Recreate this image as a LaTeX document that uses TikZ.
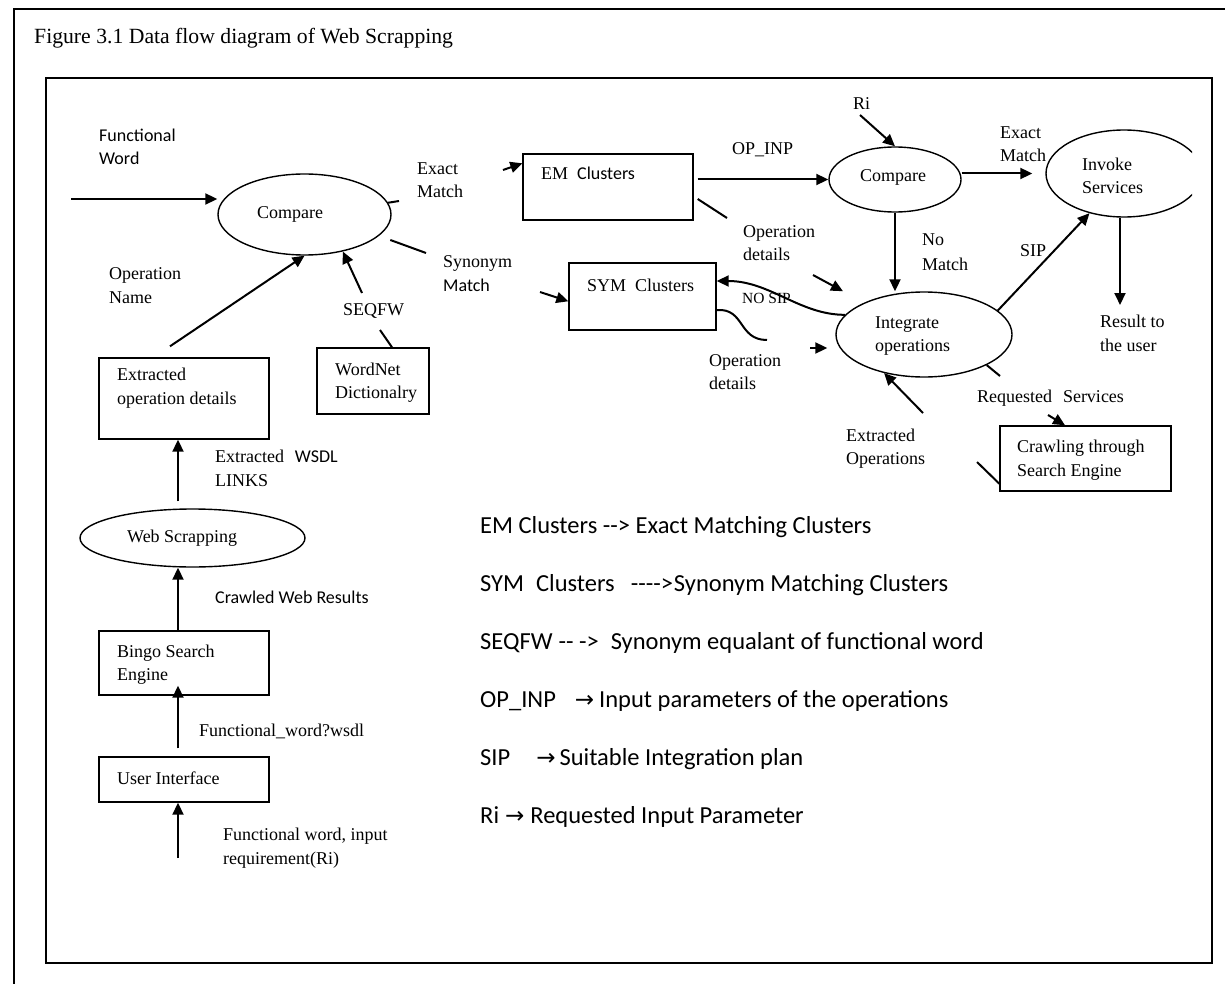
\documentclass[tikz,border=0pt]{standalone}
\usepackage{fontspec}
\setmainfont{Liberation Serif}
\newfontfamily\calib{Carlito}
\newfontfamily\djv{DejaVu Sans}
\usetikzlibrary{arrows.meta,calc,shapes.geometric}
\tikzset{
  lab/.style={anchor=base west,inner sep=0pt,font=\fontsize{18}{22}\selectfont},
  slab/.style={anchor=base west,inner sep=0pt,font=\fontsize{18}{22}\selectfont\calib},
  leg/.style={anchor=base west,inner sep=0pt,font=\fontsize{24.5}{28}\selectfont\calib},
  box/.style={draw,line width=1.4pt,rectangle,inner sep=0pt},
  ell/.style={draw,line width=1.4pt,ellipse,inner sep=0pt},
  con/.style={line width=2pt},
  arr/.style={con,-{Triangle[length=12pt,width=11pt]}},
}
\newcommand{\rarr}{{\djv\fontsize{23}{26}\selectfont →}}
\begin{document}
\begin{tikzpicture}[x=1pt,y=-1pt]
\fill[white] (0,0) rectangle (1225,984);
\useasboundingbox (0,0) rectangle (1225,984);
% frames
\draw[line width=1.6pt] (14,984) -- (14,9) -- (1225,9);
\draw[line width=1.8pt] (46,78) rectangle (1212,963);
\node[anchor=base west,inner sep=0pt,font=\fontsize{21.7}{25}\selectfont] (title) at (34,44) {Figure 3.1 Data flow diagram of Web Scrapping};

% boxes
\node[box,minimum width=170pt,minimum height=81pt] (eod) at (184,398.5) {};
\node[box,minimum width=112pt,minimum height=66pt] (wn) at (373,381) {};
\node[box,minimum width=170pt,minimum height=64pt] (bing) at (184,663) {};
\node[box,minimum width=170pt,minimum height=45pt] (ui) at (184,779.5) {};
\node[box,minimum width=170pt,minimum height=66pt] (em) at (608,187) {};
\node[box,minimum width=147pt,minimum height=67pt] (sym) at (642.5,296.5) {};
\node[box,minimum width=171pt,minimum height=65pt] (crawl) at (1085.5,458.5) {};
% ellipses
\node[ell,minimum width=173pt,minimum height=81pt] (cmp1) at (304.5,214.5) {};
\node[ell,minimum width=225pt,minimum height=58pt] (ws) at (192.5,538) {};
\node[ell,minimum width=132pt,minimum height=65pt] (cmp2) at (895,179.5) {};
\node[ell,minimum width=176pt,minimum height=85pt] (integ) at (924,334.5) {};
\begin{scope}
\clip (1000,100) rectangle (1192,260);
\node[ell,minimum width=156pt,minimum height=87pt] (inv) at (1124,173.5) {};
\end{scope}

% texts in shapes
\node[lab] (t1) at (257,219) {Compare};
\node[lab] (t2) at (335,375) {WordNet};
\node[lab] (t3) at (335,398) {Dictionalry};
\node[lab] (t4) at (117,380) {Extracted};
\node[lab] (t5) at (117,404) {operation details};
\node[lab] (t6) at (127,542) {Web Scrapping};
\node[lab] (t7) at (117,657) {Bingo Search};
\node[lab] (t8) at (117,680) {Engine};
\node[lab] (t9) at (117,784) {User Interface};
\node[lab] (t10) at (541,180) {EM\hspace{0.5em}{\calib Clusters}};
\node[lab] (t11) at (587,291) {SYM\hspace{0.5em}Clusters};
\node[lab] (t12) at (860,182) {Compare};
\node[lab] (t13) at (1082,171) {Invoke};
\node[lab] (t14) at (1082,194) {Services};
\node[lab] (t15) at (875,328) {Integrate};
\node[lab] (t16) at (875,351) {operations};
\node[lab] (t17) at (1017,452) {Crawling through};
\node[lab] (t18) at (1017,476) {Search Engine};

% connector labels
\node[slab] (l1) at (99,142) {Functional};
\node[slab] (l2) at (99,165) {Word};
\node[lab] (l3) at (417,175) {Exact};
\node[lab] (l4) at (417,198) {Match};
\node[lab] (l5) at (443,267) {Synonym};
\node[slab] (l6) at (443,291) {Match};
\node[lab] (l7) at (109,279) {Operation};
\node[lab] (l8) at (109,303) {Name};
\node[lab] (l9) at (343,315) {SEQFW};
\node[lab] (l10) at (215,462) {Extracted\hspace{0.6em}{\calib WSDL}};
\node[lab] (l11) at (215,486) {LINKS};
\node[slab] (l12) at (215,603) {Crawled Web Results};
\node[lab] (l13) at (199,736) {Functional\_word?wsdl};
\node[lab] (l14) at (223,840) {Functional word, input};
\node[lab] (l15) at (223,864) {requirement(Ri)};
\node[lab] (l16) at (732,155) {OP\_INP};
\node[lab] (l17) at (743,237) {Operation};
\node[lab] (l18) at (743,261) {details};
\node[anchor=base west,inner sep=0pt,font=\fontsize{15.5}{18}\selectfont] (l19) at (742,303) {NO SIP};
\node[lab] (l20) at (709,366) {Operation};
\node[lab] (l21) at (709,389) {details};
\node[lab] (l22) at (853,110) {Ri};
\node[lab] (l23) at (1000,139) {Exact};
\node[lab] (l24) at (1000,162) {Match};
\node[lab] (l25) at (922,246) {No};
\node[lab] (l26) at (922,270) {Match};
\node[lab] (l27) at (1020,256) {SIP};
\node[lab] (l28) at (1100,327) {Result to};
\node[lab] (l29) at (1100,351) {the user};
\node[lab] (l30) at (977,402) {Requested\hspace{0.6em}Services};
\node[lab] (l31) at (846,441) {Extracted};
\node[lab] (l32) at (846,464) {Operations};

% legend
\node[leg] (g1) at (480,533) {EM Clusters -{}-> Exact Matching Clusters};
\node[leg] (g2) at (480,591) {SYM\hspace{12pt}Clusters\hspace{16pt}-{}-{}-{}->\hspace{1pt}Synonym Matching Clusters};
\node[leg] (g3) at (480,649) {SEQFW\hspace{6pt}-{}- ->\hspace{12pt}Synonym equalant of functional word};
\node[leg] (g4) at (480,707) {OP\_INP\hspace{19pt}\rarr\hspace{5pt}Input parameters of the operations};
\node[leg] (g5) at (480,765) {SIP\hspace{26pt}\rarr\hspace{4pt}Suitable Integration plan};
\node[leg] (g6) at (480,823) {Ri\hspace{6pt}\rarr\hspace{6pt}Requested Input Parameter};

% connectors
\coordinate (fw) at (71,199);
\draw[arr] (fw) -- (fw -| cmp1.west);
\coordinate (e1) at (399,201);
\coordinate (e2) at (503,170);
\draw[con] (cmp1.8) -- (e1);
\draw[arr] (e2) -- ($(em.north west)+(0,10)$);
\coordinate (s2) at (426,253);
\coordinate (s3) at (540,292);
\draw[con,shorten <=12pt] (cmp1.-16) -- (s2);
\draw[arr] (s3) -- ($(sym.north west)+(0,39)$);
\draw[arr] ($(eod.north)+(-14,-11)$) -- (cmp1.south);
\coordinate (q1) at (380,330);
\coordinate (q2) at (362,293);
\draw[con] ($(wn.north)+(19,0)$) -- (q1);
\draw[arr] (q2) -- (cmp1.-44);
\draw[arr] ($(ws.north)+(-14.5,-7)$) -- ($(eod.south)+(-6,0)$);
\draw[arr] ($(bing.north)+(-6,0)$) -- ($(ws.south)+(-14.5,0)$);
\draw[arr] ($(ui.north)+(-6,-8)$) -- ($(bing.south)+(-6,-10)$);
\coordinate (inp) at (178,858);
\draw[arr] (inp) -- (inp |- ui.south);
\coordinate (emo) at ([xshift=4pt]em.east);
\draw[arr] (emo |- cmp2.west) -- (cmp2.west);
\coordinate (o1) at (727,218);
\coordinate (o2) at (813,275);
\draw[con] ([xshift=4pt,yshift=-12pt]em.east) -- (o1);
\draw[arr,shorten >=24pt] (o2) -- (integ.152);
\draw[arr] (integ.166) .. controls (800,315) and (770,281) .. ([yshift=15.5pt]sym.east);
\coordinate (c1) at (767,340);
\draw[con] ([yshift=-13.5pt]sym.east) .. controls (745,308) and (738,340) .. (c1);
\coordinate (i1) at (810,348);
\draw[arr,shorten >=8pt] (i1) -- (i1 -| integ.west);
\coordinate (ri) at (860,115);
\draw[arr] (ri) -- (cmp2.north);
\draw[arr] ([yshift=6pt]cmp2.east) -- ([xshift=-13pt]inv.west);
\draw[arr] (cmp2.south) -- (cmp2.south |- integ.north);
\draw[arr] (integ.18) -- (inv.-131);
\coordinate (res) at (1120,305);
\draw[arr] (res |- inv.south) -- (res);
\coordinate (r1) at (1000,376);
\coordinate (r2) at (1048,415);
\draw[con] (integ.-26) -- (r1);
\draw[arr] (r2) -- ([xshift=-20.5pt]crawl.north);
\coordinate (x1) at (977,462);
\coordinate (x2) at (923,413);
\draw[con] ([yshift=8pt]crawl.south west) -- (x1);
\draw[arr] (x2) -- (integ.-136);
\end{tikzpicture}
\end{document}
